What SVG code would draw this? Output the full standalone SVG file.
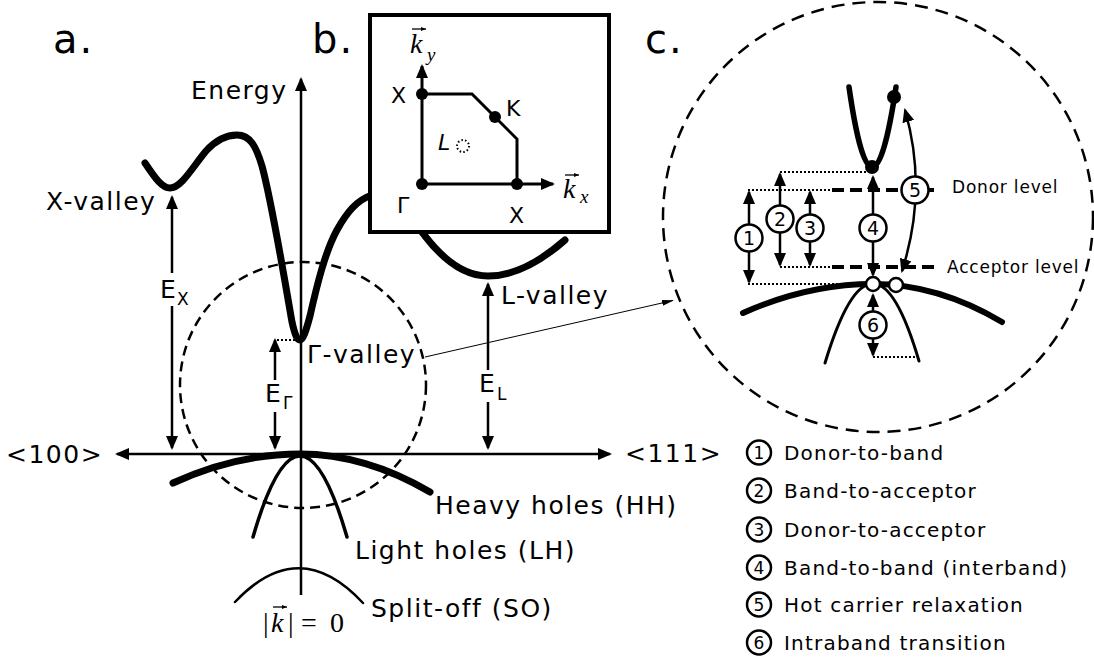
<svg xmlns="http://www.w3.org/2000/svg" width="1094" height="661" viewBox="0 0 1094 661">
<defs>
<marker id="ah" viewBox="0 0 14 12" refX="12" refY="6" markerWidth="14" markerHeight="12" markerUnits="userSpaceOnUse" orient="auto-start-reverse"><path d="M0,0 L14,6 L0,12 Z" fill="#000"/></marker>
<marker id="ahs" viewBox="0 0 12 6" refX="11" refY="3" markerWidth="12" markerHeight="6" markerUnits="userSpaceOnUse" orient="auto"><path d="M0,0 L12,3 L0,6 Z" fill="#000"/></marker>
<marker id="vec" viewBox="0 0 5 4" refX="5" refY="2" markerWidth="5" markerHeight="4" markerUnits="userSpaceOnUse" orient="auto"><path d="M0,0 L5,2 L0,4 Z" fill="#000"/></marker>
</defs>
<style>
text{font-family:"DejaVu Sans",Verdana,sans-serif;fill:#000}
.lbl{font-size:25px;letter-spacing:1.5px}
.big{font-size:40px;letter-spacing:2px}
.sub{font-size:17px;letter-spacing:0}
.leg{font-size:20px;letter-spacing:1.2px}
.lvl{font-size:17px;letter-spacing:0.8px}
.bz{font-size:22px;letter-spacing:1px}
.num{font-size:19px;text-anchor:middle}
.lnum{font-size:17px;text-anchor:middle}
.math{font-family:"Liberation Serif","DejaVu Serif",serif}
.it{font-style:italic}
.ax{fill:none;stroke:#000;stroke-width:2.5}
.one{marker-end:url(#ah)}
.two{marker-start:url(#ah);marker-end:url(#ah)}
.band{fill:none;stroke:#000;stroke-linecap:round}
.dashc{fill:none;stroke:#000;stroke-width:2.5}
.dotl{fill:none;stroke:#000;stroke-width:2;stroke-dasharray:2 2}
.lev{fill:none;stroke:#000;stroke-width:4;stroke-dasharray:12 6}
.ring{fill:#fff;stroke:#000;stroke-width:2.5}
.vecl{fill:none;stroke:#000;stroke-width:1.3;marker-end:url(#vec)}
</style>
<rect width="1094" height="661" fill="#fff"/>

<text class="big" x="53" y="53">a.</text>
<text class="big" x="312" y="53">b.</text>
<text class="big" x="645" y="53">c.</text>

<g id="panel-a">
  <circle id="zoom-circle-a" class="dashc" cx="303" cy="385" r="123" stroke-dasharray="10 6"/>
  <path id="conduction-band" class="band" stroke-width="7" d="M145,163 C155,178 162,188 170,188 C181,188 192,168 206,151 C216,140 226,135 237,135 C250,135 256,146 262,166 C272,203 285,282 292,322 C295,335 297,340 300,340 C303,340 306,331 310,316 C317,285 325,252 337,230 C347,212 357,200 372,195 C392,190 408,215 425,236 C445,262 465,276 488,276 C515,276 540,262 565,240"/>
  <path id="heavy-holes" class="band" stroke-width="7" d="M173,483 Q236,454 300,454 Q365,454 430,492"/>
  <path id="light-holes" class="band" stroke-width="3.5" stroke-linecap="butt" d="M253,537 Q300,375 347,537"/>
  <path id="split-off" class="band" stroke-width="2.5" stroke-linecap="butt" d="M235,602 Q299,534 363,603"/>
  <path class="dotl" d="M277,340 L297,340"/>
  <text class="lbl" x="191" y="99">Energy</text>
  <text class="lbl" x="46" y="210">X-valley</text>
  <text class="lbl" x="307" y="363">Γ-valley</text>
  <text class="lbl" x="501" y="304">L-valley</text>
  <text class="lbl" x="6" y="463">&lt;100&gt;</text>
  <text class="lbl" x="625" y="462">&lt;111&gt;</text>
  <text class="lbl" x="435" y="514">Heavy holes (HH)</text>
  <text class="lbl" x="355" y="559">Light holes (LH)</text>
  <text class="lbl" x="371" y="617">Split-off (SO)</text>
  <text class="lbl" x="160" y="298">E<tspan class="sub" x="177" y="305">X</tspan></text>
  <text class="lbl" x="265" y="402">E<tspan class="sub" x="283" y="409">Γ</tspan></text>
  <text class="lbl" x="479" y="392">E<tspan class="sub" x="497" y="400">L</tspan></text>
  <text class="math" font-size="28" y="632"><tspan x="263">|</tspan><tspan class="it" x="271">k</tspan><tspan x="288">|</tspan><tspan x="301">=</tspan><tspan x="330">0</tspan></text>
  <path class="vecl" d="M273,607 L287,607"/>
</g>

<g id="panel-b-inset">
  <rect x="370" y="15" width="239" height="217" fill="#fff" stroke="#000" stroke-width="4"/>
  <path d="M422,184 L422,66" fill="none" stroke="#000" stroke-width="3" marker-end="url(#ah)"/>
  <path d="M422,184 L553,184" fill="none" stroke="#000" stroke-width="3" marker-end="url(#ah)"/>
  <path d="M422,94 L472,94 L517,139 L517,184" fill="none" stroke="#000" stroke-width="3"/>
  <circle cx="422" cy="184" r="6"/>
  <circle cx="422" cy="94" r="6"/>
  <circle cx="495" cy="117" r="6"/>
  <circle cx="517" cy="184" r="6"/>
  <circle cx="463" cy="146" r="6" fill="none" stroke="#000" stroke-width="2" stroke-dasharray="1.5 2.2"/>
  <text class="bz" x="391" y="103">X</text>
  <text class="bz" x="506" y="116">K</text>
  <text class="bz" x="397" y="213">Γ</text>
  <text class="bz" x="509" y="223">X</text>
  <text class="bz" x="438" y="150" font-style="italic">L</text>
  <text class="math it" font-size="28" x="410" y="53">k<tspan font-size="19" x="427" y="61">y</tspan></text>
  <path class="vecl" d="M412,29 L426,29"/>
  <text class="math it" font-size="28" x="563" y="198">k<tspan font-size="19" x="580" y="203">x</tspan></text>
  <path class="vecl" d="M565,175 L579,175"/>
</g>

<g id="panel-c">
  <circle id="zoom-circle-c" class="dashc" cx="878" cy="217" r="215" stroke-dasharray="13 8"/>
  <path class="band" stroke-width="5.5" d="M849,87 Q872,247 896,87"/>
  <path class="band" stroke-width="3" stroke-linecap="butt" d="M825,363 Q873,205 919,361"/>
  <path class="band" stroke-width="6" d="M743,313 Q808,284 873,284 Q938,284 1002,322"/>
  <circle cx="872" cy="167" r="7"/>
  <circle cx="894" cy="97" r="7"/>
  <path class="dotl" d="M780,172 L866,172"/>
  <path class="dotl" d="M748,190 L832,190"/>
  <path class="dotl" d="M780,267 L832,267"/>
  <path class="dotl" d="M748,284 L866,284"/>
  <path class="dotl" d="M873,357 L918,357"/>
  <path class="lev" d="M832,190 L935,190"/>
  <path class="lev" d="M832,267 L935,267"/>
  <text class="lvl" x="952" y="193">Donor level</text>
  <text class="lvl" x="947" y="273">Acceptor level</text>
</g>

<g id="connectors">
  <path class="ax one" d="M301,595 L301,79"/>
  <path class="ax two" d="M117,454 L610,454"/>
  <path class="ax" marker-start="url(#ah)" d="M172,197 L172,273"/>
  <path class="ax one" d="M172,306 L172,448"/>
  <path class="ax" marker-start="url(#ah)" d="M275,340 L275,380"/>
  <path class="ax one" d="M275,412 L275,448"/>
  <path class="ax" marker-start="url(#ah)" d="M488,284 L488,370"/>
  <path class="ax one" d="M488,402 L488,448"/>
  <path d="M425,357 L673,300.5" fill="none" stroke="#000" stroke-width="1" marker-end="url(#ahs)"/>
  <path class="ax two" d="M749,192 L749,282"/>
  <path class="ax two" d="M780,174 L780,265"/>
  <path class="ax two" d="M810,192 L810,265"/>
  <path class="ax two" d="M873,177 L873,275"/>
  <path class="ax two" d="M873,295 L873,355"/>
  <path class="ax two" d="M905,110 Q928,190 902,271"/>
</g>

<g id="holes-c">
  <circle class="ring" cx="873" cy="284" r="7"/>
  <circle class="ring" cx="896" cy="285" r="7"/>
</g>

<g id="transition-labels">
  <g id="t1"><circle class="ring" cx="749" cy="238" r="13.5"/><text class="num" x="749" y="245">1</text></g>
  <g id="t2"><circle class="ring" cx="780" cy="219" r="13.5"/><text class="num" x="780" y="226">2</text></g>
  <g id="t3"><circle class="ring" cx="810" cy="228" r="13.5"/><text class="num" x="810" y="235">3</text></g>
  <g id="t4"><circle class="ring" cx="873" cy="228" r="13.5"/><text class="num" x="873" y="235">4</text></g>
  <g id="t5"><circle class="ring" cx="915" cy="190" r="13.5"/><text class="num" x="915" y="197">5</text></g>
  <g id="t6"><circle class="ring" cx="873" cy="325" r="13.5"/><text class="num" x="873" y="332">6</text></g>
</g>

<g id="legend">
  <g id="leg1"><circle class="ring" stroke-width="2" cx="759" cy="452.5" r="12"/><text class="lnum" x="759" y="458.5">1</text><text class="leg" x="784" y="460">Donor-to-band</text></g>
  <g id="leg2"><circle class="ring" stroke-width="2" cx="759" cy="490.5" r="12"/><text class="lnum" x="759" y="496.5">2</text><text class="leg" x="784" y="498">Band-to-acceptor</text></g>
  <g id="leg3"><circle class="ring" stroke-width="2" cx="759" cy="529.5" r="12"/><text class="lnum" x="759" y="535.5">3</text><text class="leg" x="784" y="537">Donor-to-acceptor</text></g>
  <g id="leg4"><circle class="ring" stroke-width="2" cx="759" cy="567.5" r="12"/><text class="lnum" x="759" y="573.5">4</text><text class="leg" x="784" y="575">Band-to-band (interband)</text></g>
  <g id="leg5"><circle class="ring" stroke-width="2" cx="759" cy="604.5" r="12"/><text class="lnum" x="759" y="610.5">5</text><text class="leg" x="784" y="612">Hot carrier relaxation</text></g>
  <g id="leg6"><circle class="ring" stroke-width="2" cx="759" cy="642.5" r="12"/><text class="lnum" x="759" y="648.5">6</text><text class="leg" x="784" y="650">Intraband transition</text></g>
</g>
</svg>
